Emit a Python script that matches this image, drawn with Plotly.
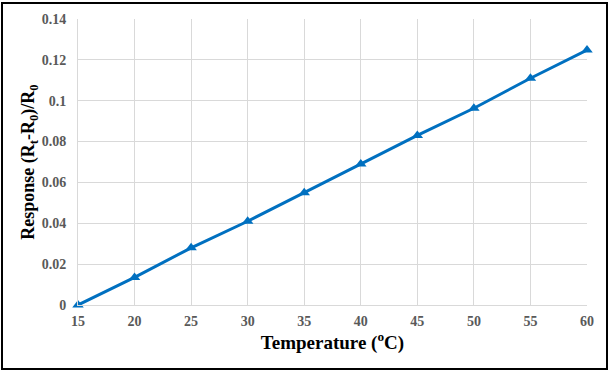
import plotly.graph_objects as go

temperature = [15, 20, 25, 30, 35, 40, 45, 50, 55, 60]
response = [0.0, 0.0135, 0.028, 0.041, 0.055, 0.069, 0.083, 0.0963, 0.111, 0.1248]
x_ticks = [15, 20, 25, 30, 35, 40, 45, 50, 55, 60]
x_labels = ["15", "20", "25", "30", "35", "40", "45", "50", "55", "60"]
y_ticks = [0, 0.02, 0.04, 0.06, 0.08, 0.1, 0.12, 0.14]
y_labels = ["0", "0.02", "0.04", "0.06", "0.08", "0.1", "0.12", "0.14"]

fig = go.Figure()
fig.add_trace(go.Scatter(
    x=temperature, y=response, mode="lines+markers",
    line=dict(color="#0070C0", width=3),
    marker=dict(symbol="triangle-up", size=10, color="#0070C0"),
    cliponaxis=False, showlegend=False,
))

L, R, T, B = 78, 25, 19, 69
W, H = 612, 374
pw, ph = W - L - R, H - T - B
serif = "Liberation Serif"
tickfont = dict(family=serif, size=14, color="#595959", weight="bold")

fig.update_layout(
    width=W, height=H,
    margin=dict(l=L, r=R, t=T, b=B),
    paper_bgcolor="white", plot_bgcolor="white",
    font=dict(family=serif),
    xaxis=dict(
        range=[15, 60], tickvals=x_ticks, ticktext=x_labels,
        showgrid=True, gridcolor="#d9d9d9",
        gridwidth=1, showline=True, linecolor="#d9d9d9", zeroline=False,
        ticks="outside", ticklen=3, tickcolor="rgba(0,0,0,0)", tickfont=tickfont,
        title=dict(text="Temperature (<sup>o</sup>C)", standoff=6,
                   font=dict(family=serif, size=19, color="black", weight="bold")),
    ),
    yaxis=dict(
        range=[0, 0.14], tickvals=y_ticks, ticktext=y_labels,
        showgrid=True,
        gridcolor="#d9d9d9", gridwidth=1, showline=True, linecolor="#d9d9d9",
        zeroline=False, ticks="outside", ticklen=8, tickcolor="rgba(0,0,0,0)",
        tickfont=tickfont,
        title=dict(text="Response (R<sub>t</sub>-R<sub>0</sub>)/R<sub>0</sub>", standoff=2,
                   font=dict(family=serif, size=18, color="black", weight="bold")),
    ),
    shapes=[dict(
        type="rect", xref="paper", yref="paper",
        x0=(2 - L) / pw, x1=(607 - L) / pw,
        y0=(H - B - 369) / ph, y1=(H - B - 3) / ph,
        line=dict(color="black", width=2), fillcolor="rgba(0,0,0,0)", layer="below",
    )],
)

fig.write_html("out.html")
